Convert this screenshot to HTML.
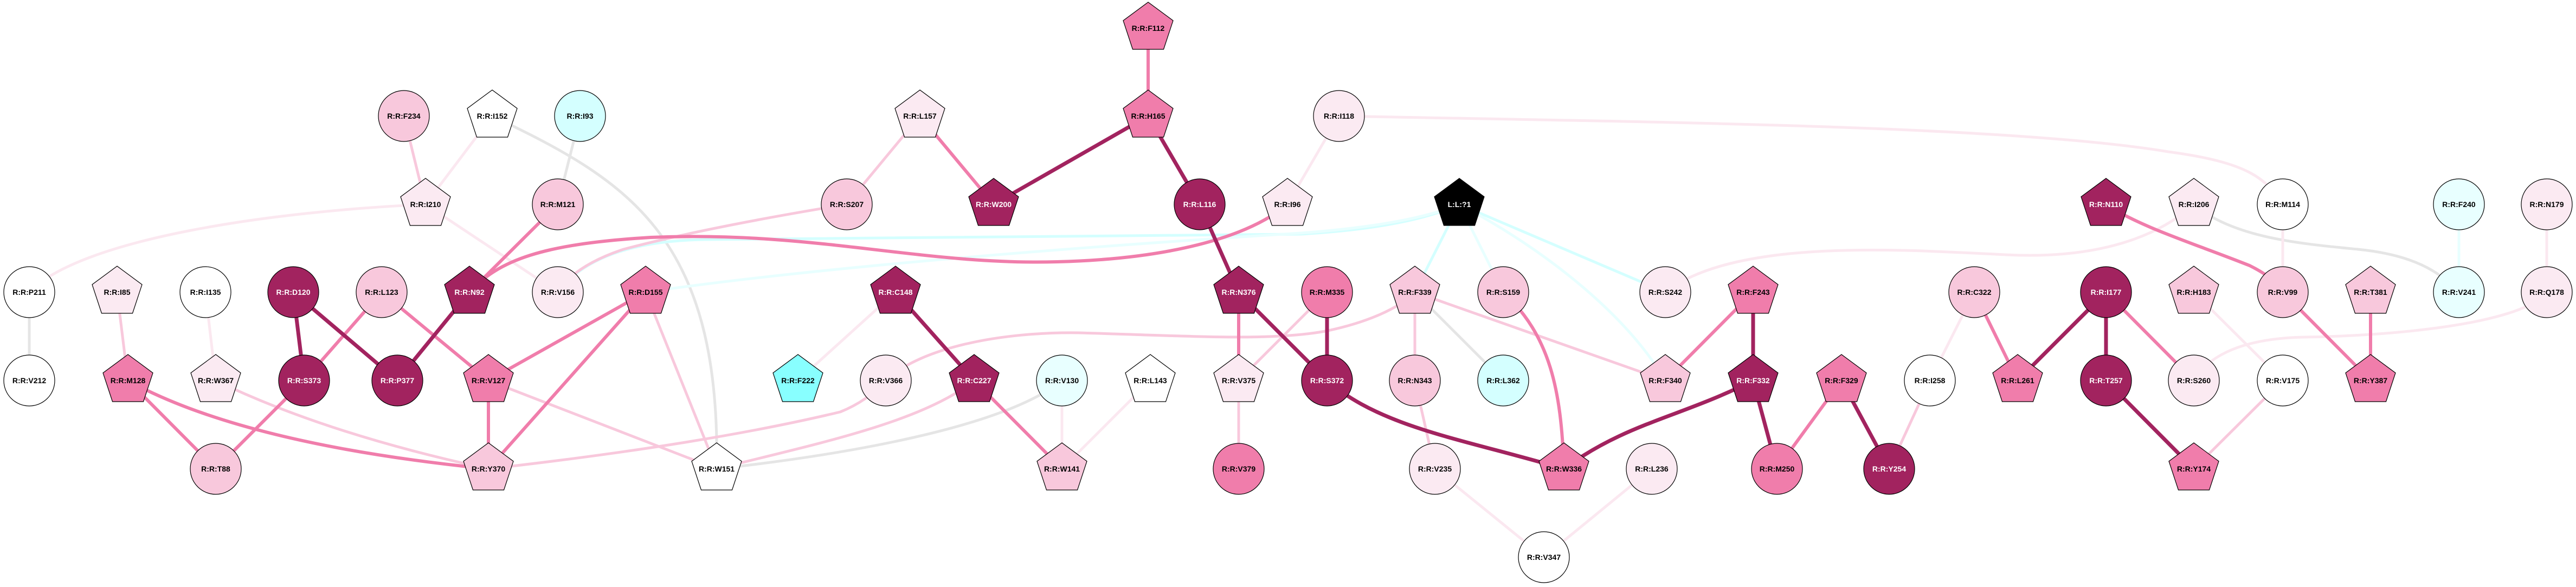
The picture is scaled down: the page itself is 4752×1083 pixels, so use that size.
<!DOCTYPE html>
<html><head><meta charset="utf-8"><style>
html,body{margin:0;padding:0;background:#fff}
svg{display:block}
text{font-family:"Liberation Sans",Arial,sans-serif;font-weight:bold;font-size:14px;text-anchor:middle;dominant-baseline:central}
.w{fill:#fff}
.n{stroke:#000;stroke-width:1.2}
</style></head><body>
<svg width="4752" height="1083" viewBox="0 0 4752 1083" xmlns="http://www.w3.org/2000/svg">
<defs>
<polygon id="pg" points="0,-48 46,-14 28.5,39 -28.5,39 -46,-14"/>
</defs>
<g fill="none" stroke-linecap="butt">
<!-- grey -->
<g stroke="#e5e5e5" stroke-width="5">
<path d="M908,214 C1150,330 1330,430 1322,865"/>
<line x1="1070" y1="214" x2="1029" y2="377"/>
<line x1="54" y1="539" x2="54" y2="702"/>
<path d="M1322,865 C1550,840 1850,790 1959,702"/>
<line x1="2610" y1="539" x2="2773" y2="702"/>
<path d="M4047,377 C4120,440 4250,450 4350,460 C4450,470 4500,500 4536,539"/>
</g>
<!-- cyan -->
<g stroke="#d4ffff" stroke-width="5">
<path d="M1029,539 Q1100,445 1300,442 L2400,432 Q2600,420 2692,377"/>
<path d="M2692,377 L3072,539"/>
<line x1="2692" y1="377" x2="2610" y2="539"/>
</g>
<g stroke="#e8ffff" stroke-width="5">
<path d="M1191,539 Q1600,480 2400,430 Q2600,415 2692,377"/>
<line x1="2692" y1="377" x2="2773" y2="539"/>
<path d="M2692,377 C2850,460 3000,580 3072,702"/>
<line x1="4536" y1="377" x2="4536" y2="539"/>
</g>
<!-- light -->
<g stroke="#fbe8f0" stroke-width="5">
<line x1="908" y1="214" x2="785" y2="377"/>
<path d="M785,377 C500,390 150,440 54,539"/>
<line x1="785" y1="377" x2="1029" y2="539"/>
<line x1="379" y1="539" x2="398" y2="702"/>
<line x1="1652" y1="539" x2="1472" y2="702"/>
<line x1="1959" y1="702" x2="1959" y2="865"/>
<line x1="2122" y1="702" x2="1959" y2="865"/>
<line x1="2470" y1="214" x2="2375" y2="377"/>
<path d="M2470,214 C3000,225 3700,230 4000,280 C4150,300 4180,330 4211,377"/>
<path d="M3072,539 C3200,440 3500,460 3700,470 C3900,480 4000,420 4047,377"/>
<line x1="2647" y1="865" x2="2848" y2="1028"/>
<line x1="3047" y1="865" x2="2848" y2="1028"/>
<line x1="3560" y1="702" x2="3642" y2="539"/>
<line x1="4211" y1="377" x2="4211" y2="539"/>
<line x1="4047" y1="539" x2="4211" y2="702"/>
<line x1="4698" y1="377" x2="4698" y2="539"/>
<path d="M4698,539 C4650,600 4400,620 4250,622 C4100,625 4060,680 4047,702"/>
</g>
<!-- pink -->
<g stroke="#f8c8dc" stroke-width="5">
<line x1="745" y1="214" x2="785" y2="377"/>
<line x1="216" y1="539" x2="236" y2="702"/>
<path d="M398,702 Q600,800 901,865"/>
<line x1="1191" y1="539" x2="1322" y2="865"/>
<line x1="901" y1="702" x2="1322" y2="865"/>
<path d="M901,865 Q1300,820 1550,760 Q1600,740 1634,702"/>
<path d="M1322,865 C1500,820 1700,780 1797,702"/>
<line x1="1697" y1="214" x2="1562" y2="377"/>
<path d="M1562,377 Q1300,420 1150,460 Q1060,490 1029,539"/>
<path d="M1634,702 C1700,640 1850,612 1990,614 C2200,620 2350,630 2450,610 C2520,595 2580,570 2610,539"/>
<line x1="2285" y1="702" x2="2448" y2="539"/>
<line x1="2285" y1="702" x2="2285" y2="865"/>
<line x1="2610" y1="539" x2="2610" y2="702"/>
<line x1="2610" y1="539" x2="3072" y2="702"/>
<line x1="2610" y1="702" x2="2647" y2="865"/>
<line x1="3560" y1="702" x2="3485" y2="865"/>
<line x1="4211" y1="702" x2="4047" y2="865"/>
</g>
<!-- medium -->
<g stroke="#f07dab" stroke-width="6">
<line x1="1029" y1="377" x2="866" y2="539"/>
<path d="M866,539 C920,480 1000,450 1200,438 C1500,425 1700,490 1950,483 C2150,478 2300,440 2375,377"/>
<line x1="704" y1="539" x2="561" y2="702"/>
<line x1="704" y1="539" x2="901" y2="702"/>
<line x1="1191" y1="539" x2="901" y2="702"/>
<line x1="1191" y1="539" x2="901" y2="865"/>
<line x1="236" y1="702" x2="398" y2="865"/>
<path d="M236,702 Q450,820 901,865"/>
<line x1="561" y1="702" x2="398" y2="865"/>
<line x1="901" y1="702" x2="901" y2="865"/>
<line x1="1797" y1="702" x2="1959" y2="865"/>
<line x1="1697" y1="214" x2="1833" y2="377"/>
<line x1="2118" y1="52" x2="2118" y2="214"/>
<line x1="2285" y1="539" x2="2285" y2="702"/>
<path d="M2773,539 C2860,620 2880,720 2885,865"/>
<line x1="3234" y1="539" x2="3072" y2="702"/>
<line x1="3397" y1="702" x2="3278" y2="865"/>
<path d="M3885,377 C3950,420 4050,450 4150,490 C4180,505 4200,520 4211,539"/>
<line x1="3642" y1="539" x2="3722" y2="702"/>
<line x1="3885" y1="539" x2="4047" y2="702"/>
<line x1="4211" y1="539" x2="4373" y2="702"/>
<line x1="4373" y1="539" x2="4373" y2="702"/>
</g>
<!-- dark -->
<g stroke="#a2235f" stroke-width="7">
<line x1="541" y1="539" x2="561" y2="702"/>
<line x1="541" y1="539" x2="733" y2="702"/>
<line x1="866" y1="539" x2="733" y2="702"/>
<line x1="1652" y1="539" x2="1797" y2="702"/>
<line x1="2118" y1="214" x2="1833" y2="377"/>
<line x1="2118" y1="214" x2="2213" y2="377"/>
<line x1="2213" y1="377" x2="2285" y2="539"/>
<line x1="2285" y1="539" x2="2448" y2="702"/>
<line x1="2448" y1="539" x2="2448" y2="702"/>
<path d="M2448,702 C2550,790 2700,810 2885,865"/>
<path d="M3234,702 C3100,770 3000,780 2885,865"/>
<line x1="3234" y1="539" x2="3234" y2="702"/>
<line x1="3234" y1="702" x2="3278" y2="865"/>
<line x1="3397" y1="702" x2="3485" y2="865"/>
<line x1="3885" y1="539" x2="3722" y2="702"/>
<line x1="3885" y1="539" x2="3885" y2="702"/>
<line x1="3885" y1="702" x2="4047" y2="865"/>
</g>
</g>

<!-- nodes -->
<g class="n">
<!-- pentagons -->
<use href="#pg" x="2118" y="52" fill="#f07dab"/>
<use href="#pg" x="1697" y="214" fill="#fbeaf2"/>
<use href="#pg" x="2118" y="214" fill="#f07dab"/>
<use href="#pg" x="908" y="214" fill="#fff"/>
<use href="#pg" x="785" y="377" fill="#fbeaf2"/>
<use href="#pg" x="1833" y="377" fill="#a2235f"/>
<use href="#pg" x="2375" y="377" fill="#fbeaf2"/>
<use href="#pg" x="2692" y="377" fill="#000"/>
<use href="#pg" x="3885" y="377" fill="#a2235f"/>
<use href="#pg" x="4047" y="377" fill="#fbeaf2"/>
<use href="#pg" x="216" y="539" fill="#fbeaf2"/>
<use href="#pg" x="866" y="539" fill="#a2235f"/>
<use href="#pg" x="1191" y="539" fill="#f07dab"/>
<use href="#pg" x="1652" y="539" fill="#a2235f"/>
<use href="#pg" x="2285" y="539" fill="#a2235f"/>
<use href="#pg" x="2610" y="539" fill="#f8c8dc"/>
<use href="#pg" x="3234" y="539" fill="#f07dab"/>
<use href="#pg" x="4047" y="539" fill="#f8c8dc"/>
<use href="#pg" x="4373" y="539" fill="#f8c8dc"/>
<use href="#pg" x="236" y="702" fill="#f07dab"/>
<use href="#pg" x="398" y="702" fill="#fbeaf2"/>
<use href="#pg" x="901" y="702" fill="#f07dab"/>
<use href="#pg" x="1472" y="702" fill="#88ffff"/>
<use href="#pg" x="1797" y="702" fill="#a2235f"/>
<use href="#pg" x="2122" y="702" fill="#fff"/>
<use href="#pg" x="2285" y="702" fill="#fbeaf2"/>
<use href="#pg" x="3072" y="702" fill="#f8c8dc"/>
<use href="#pg" x="3234" y="702" fill="#a2235f"/>
<use href="#pg" x="3397" y="702" fill="#f07dab"/>
<use href="#pg" x="3722" y="702" fill="#f07dab"/>
<use href="#pg" x="4373" y="702" fill="#f07dab"/>
<use href="#pg" x="901" y="865" fill="#f8c8dc"/>
<use href="#pg" x="1322" y="865" fill="#fff"/>
<use href="#pg" x="1959" y="865" fill="#f8c8dc"/>
<use href="#pg" x="2885" y="865" fill="#f07dab"/>
<use href="#pg" x="4047" y="865" fill="#f07dab"/>
<!-- circles -->
<circle cx="745" cy="214" r="47" fill="#f8c8dc"/>
<circle cx="1070" cy="214" r="47" fill="#d4ffff"/>
<circle cx="2470" cy="214" r="47" fill="#fbeaf2"/>
<circle cx="1029" cy="377" r="47" fill="#f8c8dc"/>
<circle cx="1562" cy="377" r="47" fill="#f8c8dc"/>
<circle cx="2213" cy="377" r="47" fill="#a2235f"/>
<circle cx="4211" cy="377" r="47" fill="#fff"/>
<circle cx="4536" cy="377" r="47" fill="#e8ffff"/>
<circle cx="4698" cy="377" r="47" fill="#fbeaf2"/>
<circle cx="54" cy="539" r="47" fill="#fff"/>
<circle cx="379" cy="539" r="47" fill="#fff"/>
<circle cx="541" cy="539" r="47" fill="#a2235f"/>
<circle cx="704" cy="539" r="47" fill="#f8c8dc"/>
<circle cx="1029" cy="539" r="47" fill="#fbeaf2"/>
<circle cx="2448" cy="539" r="47" fill="#f07dab"/>
<circle cx="2773" cy="539" r="47" fill="#f8c8dc"/>
<circle cx="3072" cy="539" r="47" fill="#fbeaf2"/>
<circle cx="3642" cy="539" r="47" fill="#f8c8dc"/>
<circle cx="3885" cy="539" r="47" fill="#a2235f"/>
<circle cx="4211" cy="539" r="47" fill="#f8c8dc"/>
<circle cx="4536" cy="539" r="47" fill="#e8ffff"/>
<circle cx="4698" cy="539" r="47" fill="#fbeaf2"/>
<circle cx="54" cy="702" r="47" fill="#fff"/>
<circle cx="561" cy="702" r="47" fill="#a2235f"/>
<circle cx="733" cy="702" r="47" fill="#a2235f"/>
<circle cx="1634" cy="702" r="47" fill="#fbeaf2"/>
<circle cx="1959" cy="702" r="47" fill="#e8ffff"/>
<circle cx="2448" cy="702" r="47" fill="#a2235f"/>
<circle cx="2610" cy="702" r="47" fill="#f8c8dc"/>
<circle cx="2773" cy="702" r="47" fill="#d4ffff"/>
<circle cx="3560" cy="702" r="47" fill="#fff"/>
<circle cx="3885" cy="702" r="47" fill="#a2235f"/>
<circle cx="4047" cy="702" r="47" fill="#fbeaf2"/>
<circle cx="4211" cy="702" r="47" fill="#fff"/>
<circle cx="398" cy="865" r="47" fill="#f8c8dc"/>
<circle cx="2285" cy="865" r="47" fill="#f07dab"/>
<circle cx="2647" cy="865" r="47" fill="#fbeaf2"/>
<circle cx="3047" cy="865" r="47" fill="#fbeaf2"/>
<circle cx="3278" cy="865" r="47" fill="#f07dab"/>
<circle cx="3485" cy="865" r="47" fill="#a2235f"/>
<circle cx="2848" cy="1028" r="47" fill="#fff"/>
</g>

<!-- labels -->
<g>
<text x="2118" y="52">R:R:F112</text>
<text x="1697" y="214">R:R:L157</text>
<text x="2118" y="214">R:R:H165</text>
<text x="908" y="214">R:R:I152</text>
<text x="745" y="214">R:R:F234</text>
<text x="1070" y="214">R:R:I93</text>
<text x="2470" y="214">R:R:I118</text>
<text x="785" y="377">R:R:I210</text>
<text x="1029" y="377">R:R:M121</text>
<text x="1562" y="377">R:R:S207</text>
<text x="1833" y="377" class="w">R:R:W200</text>
<text x="2213" y="377" class="w">R:R:L116</text>
<text x="2375" y="377">R:R:I96</text>
<text x="2692" y="377" class="w">L:L:?1</text>
<text x="3885" y="377" class="w">R:R:N110</text>
<text x="4047" y="377">R:R:I206</text>
<text x="4211" y="377">R:R:M114</text>
<text x="4536" y="377">R:R:F240</text>
<text x="4698" y="377">R:R:N179</text>
<text x="54" y="539">R:R:P211</text>
<text x="216" y="539">R:R:I85</text>
<text x="379" y="539">R:R:I135</text>
<text x="541" y="539" class="w">R:R:D120</text>
<text x="704" y="539">R:R:L123</text>
<text x="866" y="539" class="w">R:R:N92</text>
<text x="1029" y="539">R:R:V156</text>
<text x="1191" y="539">R:R:D155</text>
<text x="1652" y="539" class="w">R:R:C148</text>
<text x="2285" y="539" class="w">R:R:N376</text>
<text x="2448" y="539">R:R:M335</text>
<text x="2610" y="539">R:R:F339</text>
<text x="2773" y="539">R:R:S159</text>
<text x="3072" y="539">R:R:S242</text>
<text x="3234" y="539">R:R:F243</text>
<text x="3642" y="539">R:R:C322</text>
<text x="3885" y="539" class="w">R:R:I177</text>
<text x="4047" y="539">R:R:H183</text>
<text x="4211" y="539">R:R:V99</text>
<text x="4373" y="539">R:R:T381</text>
<text x="4536" y="539">R:R:V241</text>
<text x="4698" y="539">R:R:Q178</text>
<text x="54" y="702">R:R:V212</text>
<text x="236" y="702">R:R:M128</text>
<text x="398" y="702">R:R:W367</text>
<text x="561" y="702" class="w">R:R:S373</text>
<text x="733" y="702" class="w">R:R:P377</text>
<text x="901" y="702">R:R:V127</text>
<text x="1472" y="702">R:R:F222</text>
<text x="1634" y="702">R:R:V366</text>
<text x="1797" y="702" class="w">R:R:C227</text>
<text x="1959" y="702">R:R:V130</text>
<text x="2122" y="702">R:R:L143</text>
<text x="2285" y="702">R:R:V375</text>
<text x="2448" y="702" class="w">R:R:S372</text>
<text x="2610" y="702">R:R:N343</text>
<text x="2773" y="702">R:R:L362</text>
<text x="3072" y="702">R:R:F340</text>
<text x="3234" y="702" class="w">R:R:F332</text>
<text x="3397" y="702">R:R:F329</text>
<text x="3560" y="702">R:R:I258</text>
<text x="3722" y="702">R:R:L261</text>
<text x="3885" y="702" class="w">R:R:T257</text>
<text x="4047" y="702">R:R:S260</text>
<text x="4211" y="702">R:R:V175</text>
<text x="4373" y="702">R:R:Y387</text>
<text x="398" y="865">R:R:T88</text>
<text x="901" y="865">R:R:Y370</text>
<text x="1322" y="865">R:R:W151</text>
<text x="1959" y="865">R:R:W141</text>
<text x="2285" y="865">R:R:V379</text>
<text x="2647" y="865">R:R:V235</text>
<text x="2885" y="865">R:R:W336</text>
<text x="3047" y="865">R:R:L236</text>
<text x="3278" y="865">R:R:M250</text>
<text x="3485" y="865" class="w">R:R:Y254</text>
<text x="4047" y="865">R:R:Y174</text>
<text x="2848" y="1028">R:R:V347</text>
</g>
</svg>
</body></html>
